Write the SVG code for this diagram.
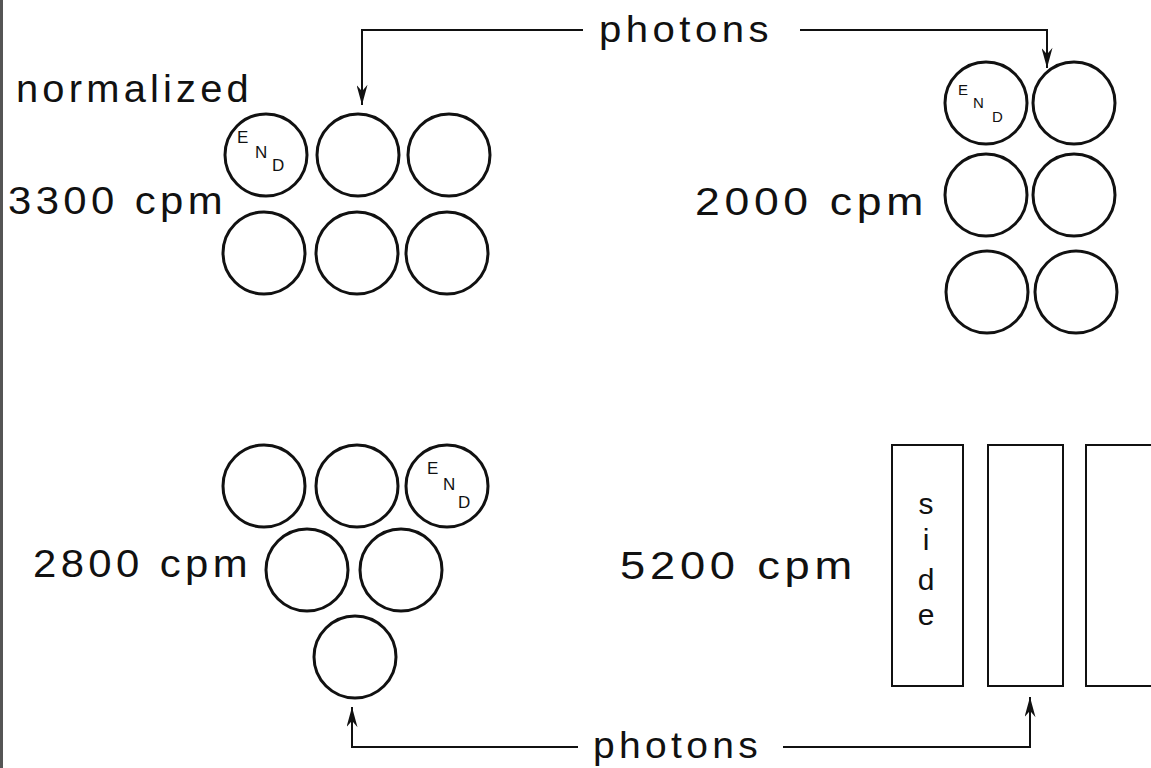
<svg xmlns="http://www.w3.org/2000/svg" width="1151" height="768" viewBox="0 0 1151 768">
<style>
.c{fill:none;stroke:#111;stroke-width:3}
.r{fill:none;stroke:#111;stroke-width:2}
.t{font-family:"Liberation Sans",Arial,sans-serif;font-size:38px;letter-spacing:4px;fill:#111}
.p{font-family:"Liberation Sans",Arial,sans-serif;font-size:36px;letter-spacing:4px;fill:#111}
.e{font-family:"Liberation Sans",Arial,sans-serif;font-size:17px;fill:#111}
.es{font-family:"Liberation Sans",Arial,sans-serif;font-size:15px;fill:#111}
.s{font-family:"Liberation Sans",Arial,sans-serif;font-size:30px;fill:#111;text-anchor:middle}
.l{fill:none;stroke:#111;stroke-width:2}
</style>
<defs>
<marker id="arr" viewBox="0 0 22 12" refX="22" refY="6" markerWidth="22" markerHeight="11" markerUnits="userSpaceOnUse" orient="auto">
<path d="M0,0 L22,6 L0,12 L7,6 z" fill="#111"/>
</marker>
</defs>
<rect x="0" y="0" width="1151" height="768" fill="#fff"/>
<rect x="0" y="0" width="3" height="768" fill="#555"/>

<g id="label-normalized"><text class="t" x="16" y="102" textLength="237" lengthAdjust="spacingAndGlyphs">normalized</text></g>

<g id="group-top-left">
<text class="t" x="8" y="214" textLength="219" lengthAdjust="spacingAndGlyphs">3300 cpm</text>
<circle class="c" cx="266" cy="155" r="41"/>
<text class="e" x="237" y="143">E</text><text class="e" x="255" y="158">N</text><text class="e" x="272" y="171">D</text>
<circle class="c" cx="358" cy="155" r="41"/>
<circle class="c" cx="449" cy="155" r="41"/>
<circle class="c" cx="264" cy="253" r="41"/>
<circle class="c" cx="357" cy="253" r="41"/>
<circle class="c" cx="447" cy="253" r="41"/>
</g>

<g id="group-top-right">
<text class="t" x="695" y="215" textLength="233" lengthAdjust="spacingAndGlyphs">2000 cpm</text>
<circle class="c" cx="986" cy="103" r="41"/>
<text class="es" x="958" y="95">E</text><text class="es" x="973" y="108">N</text><text class="es" x="992" y="122">D</text>
<circle class="c" cx="1074" cy="103" r="41"/>
<circle class="c" cx="986" cy="195" r="41"/>
<circle class="c" cx="1074" cy="195" r="41"/>
<circle class="c" cx="987" cy="292" r="41"/>
<circle class="c" cx="1076" cy="292" r="41"/>
</g>

<g id="group-bottom-left">
<text class="t" x="33" y="577" textLength="219" lengthAdjust="spacingAndGlyphs">2800 cpm</text>
<circle class="c" cx="264" cy="486" r="41"/>
<circle class="c" cx="357" cy="486" r="41"/>
<circle class="c" cx="447" cy="486" r="41"/>
<text class="e" x="427" y="474">E</text><text class="e" x="443" y="490">N</text><text class="e" x="458" y="508">D</text>
<circle class="c" cx="307" cy="570" r="41"/>
<circle class="c" cx="401" cy="570" r="41"/>
<circle class="c" cx="355" cy="657" r="41"/>
</g>

<g id="group-bottom-right">
<text class="t" x="620" y="579" textLength="237" lengthAdjust="spacingAndGlyphs">5200 cpm</text>
<rect class="r" x="892" y="445" width="71" height="241"/>
<text class="s" x="926" y="513"><tspan x="926" y="514">s</tspan><tspan x="926" y="550">i</tspan><tspan x="926" y="590">d</tspan><tspan x="926" y="625">e</tspan></text>
<rect class="r" x="988" y="445" width="75" height="241"/>
<rect class="r" x="1086" y="445" width="80" height="241"/>
</g>

<g id="label-photons-top"><text class="p" x="599" y="42" textLength="174" lengthAdjust="spacingAndGlyphs">photons</text></g>
<g id="label-photons-bottom"><text class="p" x="593" y="758" textLength="169" lengthAdjust="spacingAndGlyphs">photons</text></g>

<g id="connectors">
<path class="l" d="M583,30 H362 V105" marker-end="url(#arr)"/>
<path class="l" d="M800,30 H1047 V68" marker-end="url(#arr)"/>
<path class="l" d="M578,747 H352 V707" marker-end="url(#arr)"/>
<path class="l" d="M783,747 H1030 V697" marker-end="url(#arr)"/>
</g>
</svg>
